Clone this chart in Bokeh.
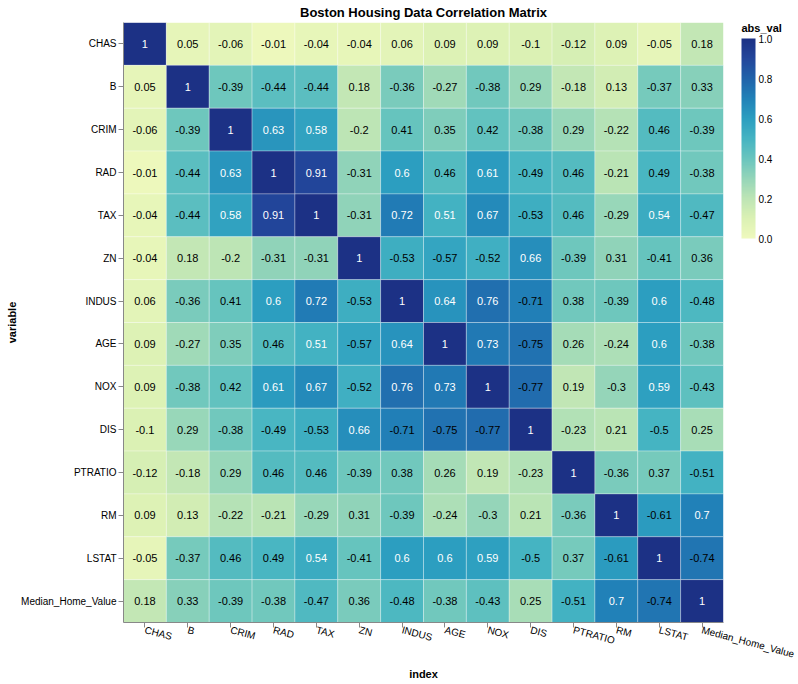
import numpy as np
import pandas as pd
from bokeh.plotting import figure
from bokeh.models import (LinearColorMapper, ColorBar, ColumnDataSource, FixedTicker,
                          NumeralTickFormatter, Title, Label)
from bokeh.transform import transform
from bokeh.embed import file_html
from bokeh.resources import INLINE

names = ["CHAS", "B", "CRIM", "RAD", "TAX", "ZN", "INDUS", "AGE", "NOX", "DIS",
         "PTRATIO", "RM", "LSTAT", "Median_Home_Value"]

row_CHAS = [1, 0.05, -0.06, -0.01, -0.04, -0.04, 0.06, 0.09, 0.09, -0.1, -0.12, 0.09, -0.05, 0.18]
row_B = [0.05, 1, -0.39, -0.44, -0.44, 0.18, -0.36, -0.27, -0.38, 0.29, -0.18, 0.13, -0.37, 0.33]
row_CRIM = [-0.06, -0.39, 1, 0.63, 0.58, -0.2, 0.41, 0.35, 0.42, -0.38, 0.29, -0.22, 0.46, -0.39]
row_RAD = [-0.01, -0.44, 0.63, 1, 0.91, -0.31, 0.6, 0.46, 0.61, -0.49, 0.46, -0.21, 0.49, -0.38]
row_TAX = [-0.04, -0.44, 0.58, 0.91, 1, -0.31, 0.72, 0.51, 0.67, -0.53, 0.46, -0.29, 0.54, -0.47]
row_ZN = [-0.04, 0.18, -0.2, -0.31, -0.31, 1, -0.53, -0.57, -0.52, 0.66, -0.39, 0.31, -0.41, 0.36]
row_INDUS = [0.06, -0.36, 0.41, 0.6, 0.72, -0.53, 1, 0.64, 0.76, -0.71, 0.38, -0.39, 0.6, -0.48]
row_AGE = [0.09, -0.27, 0.35, 0.46, 0.51, -0.57, 0.64, 1, 0.73, -0.75, 0.26, -0.24, 0.6, -0.38]
row_NOX = [0.09, -0.38, 0.42, 0.61, 0.67, -0.52, 0.76, 0.73, 1, -0.77, 0.19, -0.3, 0.59, -0.43]
row_DIS = [-0.1, 0.29, -0.38, -0.49, -0.53, 0.66, -0.71, -0.75, -0.77, 1, -0.23, 0.21, -0.5, 0.25]
row_PTRATIO = [-0.12, -0.18, 0.29, 0.46, 0.46, -0.39, 0.38, 0.26, 0.19, -0.23, 1, -0.36, 0.37, -0.51]
row_RM = [0.09, 0.13, -0.22, -0.21, -0.29, 0.31, -0.39, -0.24, -0.3, 0.21, -0.36, 1, -0.61, 0.7]
row_LSTAT = [-0.05, -0.37, 0.46, 0.49, 0.54, -0.41, 0.6, 0.6, 0.59, -0.5, 0.37, -0.61, 1, -0.74]
row_MHV = [0.18, 0.33, -0.39, -0.38, -0.47, 0.36, -0.48, -0.38, -0.43, 0.25, -0.51, 0.7, -0.74, 1]

rows = [row_CHAS, row_B, row_CRIM, row_RAD, row_TAX, row_ZN, row_INDUS, row_AGE,
        row_NOX, row_DIS, row_PTRATIO, row_RM, row_LSTAT, row_MHV]

legend_ticks = [0.0, 0.2, 0.4, 0.6, 0.8, 1.0]

# Vega "yellowgreenblue" scheme stops
stops = ["#eff9bd", "#dbf1b4", "#bde5b5", "#94d5b9", "#69c5be", "#45b4c2",
         "#2c9ec0", "#2182b8", "#2163aa", "#23479c", "#1c3185"]


def hex2rgb(h):
    return np.array([int(h[i:i + 2], 16) for i in (1, 3, 5)], dtype=float)


stop_rgb = np.array([hex2rgb(s) for s in stops])
pos = np.linspace(0, 1, len(stops))
palette = []
for t in np.linspace(0, 1, 256):
    r = np.interp(t, pos, stop_rgb[:, 0])
    g = np.interp(t, pos, stop_rgb[:, 1])
    b = np.interp(t, pos, stop_rgb[:, 2])
    palette.append("#%02x%02x%02x" % (int(round(r)), int(round(g)), int(round(b))))

recs = []
for vname, vals in zip(names, rows):
    for iname, c in zip(names, vals):
        recs.append(dict(index=iname, variable=vname, corr=c, abs_val=abs(c),
                         label=("%g" % c), tcolor=("white" if c > 0.5 else "black")))
df = pd.DataFrame(recs)
src = ColumnDataSource(df)

mapper = LinearColorMapper(palette=palette, low=0, high=1)

FONT = "Liberation Sans"

p = figure(x_range=names, y_range=list(reversed(names)),
           frame_width=600, frame_height=600,
           min_border_left=123, min_border_right=72, min_border_top=0, min_border_bottom=0,
           output_backend="svg", toolbar_location=None, tools="")
p.title = Title(text="Boston Housing Data Correlation Matrix", align="center",
                text_font=FONT, text_font_size="13px", text_font_style="bold",
                text_color="#000000", standoff=5)

p.rect(x="index", y="variable", width=1, height=1, source=src,
       fill_color=transform("abs_val", mapper), line_color="white", line_alpha=0.3, line_width=1)
p.text(x="index", y="variable", text="label", source=src,
       text_align="center", text_baseline="middle", text_font_size="11px",
       text_color="tcolor", text_font={"value": FONT})

p.grid.grid_line_color = None
p.outline_line_color = None
for ax in (p.xaxis[0], p.yaxis[0]):
    ax.axis_line_color = "#888888"
    ax.major_tick_line_color = "#888888"
    ax.major_tick_out = 5
    ax.major_tick_in = 0
    ax.minor_tick_line_color = None
    ax.major_label_text_font = FONT
    ax.major_label_text_font_size = "10px"
    ax.major_label_text_color = "#000000"
    ax.major_label_standoff = 2
    ax.axis_label_text_font = FONT
    ax.axis_label_text_font_size = "11px"
    ax.axis_label_text_font_style = "bold"
    ax.axis_label_text_color = "#000000"

p.xaxis.axis_label = "index"
p.yaxis.axis_label = "variable"
p.yaxis.axis_label_standoff = 0
p.xaxis.axis_label_standoff = 0
p.xaxis.major_label_orientation = -15 * np.pi / 180

cb = ColorBar(color_mapper=mapper, location=(618, 384), width=14, height=200,
              margin=0, padding=0, title=None,
              ticker=FixedTicker(ticks=legend_ticks),
              formatter=NumeralTickFormatter(format="0.0"),
              major_label_text_font=FONT, major_label_text_font_size="10px",
              major_label_text_color="#000000", label_standoff=3,
              major_tick_line_color=None, bar_line_color=None,
              background_fill_color=None, border_line_color=None)
p.add_layout(cb, "center")

# legend title, just above the colour bar
n = len(names)
p.add_layout(Label(x=n + 18 / 42.857, y=n - 5.5 / 42.857, text="abs_val",
                   text_font=FONT, text_font_size="11px", text_font_style="bold",
                   text_color="#000000", text_align="left", text_baseline="middle"),
             "right")

open("out.html", "w").write(file_html(p, INLINE))
